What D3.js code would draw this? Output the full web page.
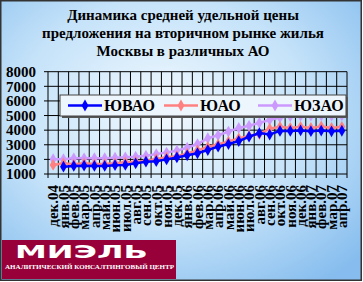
<!DOCTYPE html>
<html>
<head>
<meta charset="utf-8">
<script src="https://cdn.jsdelivr.net/npm/d3@7"></script>
<style>
  body { margin: 0; }
  svg { display: block; }
</style>
</head>
<body>
<svg id="chart" width="363" height="282"></svg>
<script>
const titleLines = ["Динамика средней удельной цены", "предложения на вторичном рынке жилья", "Москвы в различных АО"];
const categories = ["дек.04","янв.05","фев.05","мар.05","апр.05","май.05","июн.05","июл.05","авг.05","сен.05","окт.05","ноя.05","дек.05",
  "янв.06","фев.06","мар.06","апр.06","май.06","июн.06","июл.06","авг.06","сен.06","окт.06","ноя.06","дек.06","янв.07","фев.07","мар.07","апр.07"];
const seriesNames = ["ЮВАО", "ЮАО", "ЮЗАО"];
const yuvao = [null,1500,1550,1570,1550,1550,1600,1620,1730,1840,1880,2000,2130,2280,2420,2640,2870,3050,3250,3550,3800,3700,3950,3950,3980,3930,3970,3920,3960];
const yuao  = [1620,1730,1660,1730,1680,1690,1730,1800,1840,1890,2030,2140,2220,2400,2620,2850,3030,3230,3440,3600,3730,4100,4230,4150,4230,4150,4250,4150,4230];
const yuzao = [2010,2010,2075,2075,2080,2080,2120,2140,2180,2250,2360,2470,2600,2800,3050,3450,3650,3900,4150,4300,4500,4700,4870,4950,4990,5000,5010,5000,5010];
const yTicks = [1000,2000,3000,4000,5000,6000,7000,8000];
const colors = ["#0000ff", "#ff8080", "#cc99ff"];

const serif = "'Liberation Serif', 'DejaVu Serif', 'Times New Roman', serif";
const width = 363, height = 282;
const plotLeft = 48, plotRight = 347, plotTop = 71.7, plotBottom = 174;

const svg = d3.select("#chart");
const defs = svg.append("defs");

const grad = defs.append("radialGradient")
  .attr("id", "bg").attr("cx", "45%").attr("cy", "40%").attr("r", "75%");
grad.append("stop").attr("offset", "0%").attr("stop-color", "#f2f9fe");
grad.append("stop").attr("offset", "55%").attr("stop-color", "#c4e2f9");
grad.append("stop").attr("offset", "100%").attr("stop-color", "#86bdee");

svg.append("rect")
  .attr("x", 0.75).attr("y", 0.75).attr("width", width - 2.5).attr("height", height - 2.5)
  .attr("fill", "url(#bg)").attr("stroke", "#333").attr("stroke-width", 1.5);

// title
svg.selectAll(".title")
  .data(titleLines)
  .enter().append("text")
  .attr("class", "title")
  .attr("x", 183)
  .attr("y", (d, i) => 20 + i * 18)
  .attr("text-anchor", "middle")
  .attr("font-family", serif)
  .attr("font-weight", "bold")
  .attr("font-size", 15)
  .text(d => d);

const x = d3.scaleBand().domain(categories).range([plotLeft, plotRight]);
const y = d3.scaleLinear().domain([1000, 8000]).range([plotBottom, plotTop]);

// grid
const grid = svg.append("g").attr("stroke", "#000").attr("stroke-width", 1);
grid.selectAll(".hg")
  .data(yTicks)
  .enter().append("line")
  .attr("x1", plotLeft - 4).attr("x2", plotRight)
  .attr("y1", d => y(d)).attr("y2", d => y(d));

const bounds = categories.map(c => x(c)).concat([x(categories[categories.length - 1]) + x.bandwidth()]);
grid.selectAll(".vg")
  .data(bounds)
  .enter().append("line")
  .attr("x1", d => d).attr("x2", d => d)
  .attr("y1", plotTop).attr("y2", plotBottom + 4);

// y labels
const yAxis = d3.axisLeft(y).tickValues(yTicks).tickFormat(d3.format("d")).tickSize(0).tickPadding(12);
const gy = svg.append("g")
  .attr("transform", `translate(${plotLeft}, 0)`)
  .call(yAxis)
  .attr("font-family", serif)
  .attr("font-weight", "bold")
  .attr("font-size", 15);
gy.select(".domain").remove();
gy.selectAll("text").attr("fill", "#000");

// x labels
const xAxis = d3.axisBottom(x).tickSize(0).tickPadding(0);
const gx = svg.append("g")
  .attr("transform", `translate(0, ${plotBottom})`)
  .call(xAxis)
  .attr("font-family", serif)
  .attr("font-weight", "bold")
  .attr("font-size", 15);
gx.select(".domain").remove();
gx.selectAll("text")
  .attr("fill", "#000")
  .attr("transform", "rotate(-90)")
  .attr("text-anchor", "end")
  .attr("x", -11)
  .attr("y", 0)
  .attr("dy", "0.35em");

// series
const allSeries = [yuvao, yuao, yuzao];
const line = d3.line()
  .defined(d => d != null)
  .x((d, i) => x(categories[i]) + x.bandwidth() / 2)
  .y(d => y(d));
const diamond = d3.symbol().type(d3.symbolDiamond).size(40);

[2, 1, 0].forEach(k => {
  const data = allSeries[k];
  const g = svg.append("g");
  g.append("path")
    .datum(data)
    .attr("fill", "none")
    .attr("stroke", colors[k])
    .attr("stroke-width", 2.5)
    .attr("d", line);
  g.selectAll("path.m")
    .data(data.map((v, i) => ({ v, i })).filter(d => d.v != null))
    .enter().append("path")
    .attr("class", "m")
    .attr("d", diamond)
    .attr("fill", colors[k])
    .attr("transform", d => `translate(${x(categories[d.i]) + x.bandwidth() / 2}, ${y(d.v)})`);
});

// legend
const legend = svg.append("g");
legend.append("rect")
  .attr("x", 62).attr("y", 97).attr("width", 286).attr("height", 21)
  .attr("fill", "#555");
legend.append("rect")
  .attr("x", 60).attr("y", 95).attr("width", 286).attr("height", 21)
  .attr("fill", "#eef6fd").attr("stroke", "#444").attr("stroke-width", 1);
const legendX = [68, 164, 258];
seriesNames.forEach((name, k) => {
  const lx = legendX[k];
  legend.append("line")
    .attr("x1", lx).attr("x2", lx + 34).attr("y1", 105.5).attr("y2", 105.5)
    .attr("stroke", colors[k]).attr("stroke-width", 2.5);
  legend.append("path")
    .attr("d", diamond)
    .attr("fill", colors[k])
    .attr("transform", `translate(${lx + 17}, 105.5)`);
  legend.append("text")
    .attr("x", lx + 36).attr("y", 111)
    .attr("font-family", serif)
    .attr("font-weight", "bold")
    .attr("font-size", 16)
    .text(name);
});

// logo
svg.append("rect")
  .attr("x", 2).attr("y", 240).attr("width", 174).attr("height", 39)
  .attr("fill", "#98003a");
svg.append("text")
  .attr("x", 15).attr("y", 258)
  .attr("textLength", 133).attr("lengthAdjust", "spacingAndGlyphs")
  .attr("font-family", "'DejaVu Sans', sans-serif")
  .attr("font-weight", "bold")
  .attr("font-size", 17)
  .attr("fill", "#fff")
  .text("МИЭЛЬ");
svg.append("text")
  .attr("x", 5).attr("y", 268.5)
  .attr("textLength", 169).attr("lengthAdjust", "spacingAndGlyphs")
  .attr("font-family", serif)
  .attr("font-weight", "bold")
  .attr("font-size", 7)
  .attr("fill", "#fff")
  .text("АНАЛИТИЧЕСКИЙ КОНСАЛТИНГОВЫЙ ЦЕНТР");
</script>
</body>
</html>
